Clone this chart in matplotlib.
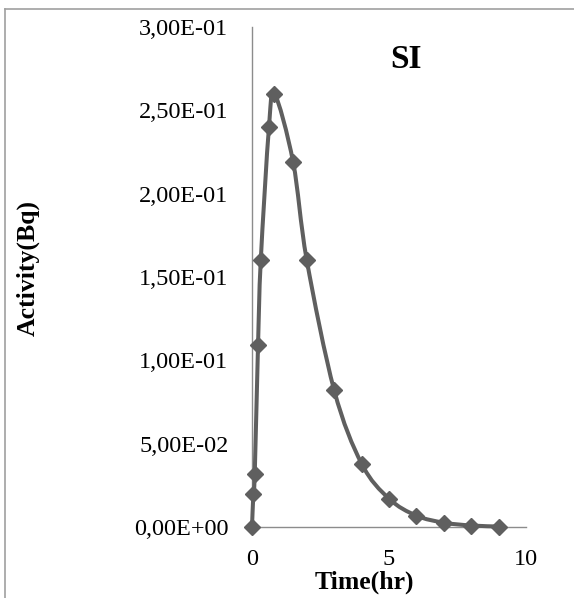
import matplotlib
matplotlib.use("Agg")
import matplotlib.pyplot as plt
from matplotlib.path import Path
from matplotlib.patches import PathPatch
from matplotlib.lines import Line2D
import numpy as np

# Data
time_hr = [0, 0.05, 0.1, 0.22, 0.32, 0.62, 0.82, 1.5, 2.0, 3.0, 4.0, 5.0, 6.0, 7.0, 8.0, 9.0]
activity = [0.0, 0.020, 0.032, 0.109, 0.160, 0.240, 0.260, 0.219, 0.160, 0.082, 0.038,
            0.017, 0.0068, 0.0026, 0.0009, 0.0003]
y_ticks = [0.0, 0.05, 0.10, 0.15, 0.20, 0.25, 0.30]
y_tick_labels = ["0,00E+00", "5,00E-02", "1,00E-01", "1,50E-01", "2,00E-01", "2,50E-01", "3,00E-01"]
x_ticks = [0, 5, 10]
x_tick_labels = ["0", "5", "10"]
title = "SI"
xlabel = "Time(hr)"
ylabel = "Activity(Bq)"

W, H = 574, 598
fig = plt.figure(figsize=(W / 100, H / 100), dpi=100)
serif = ["Liberation Serif", "DejaVu Serif"]
plt.rcParams['font.family'] = serif

ax_l, ax_r, ax_b, ax_t = 252, 526, 527, 27
ax = fig.add_axes([ax_l / W, 1 - ax_b / H, (ax_r - ax_l) / W, (ax_b - ax_t) / H])
ax.set_xlim(0, 10)
ax.set_ylim(0, 0.30)

line_color = "#5f5f5f"
axis_color = "#8c8c8c"

# Smoothed line (Excel-like Catmull-Rom through the data points)
pts = np.column_stack([time_hr, activity])
n = len(pts)
verts = [pts[0]]
codes = [Path.MOVETO]
for i in range(n - 1):
    p0 = pts[i - 1] if i > 0 else pts[i]
    p1 = pts[i]
    p2 = pts[i + 1]
    p3 = pts[i + 2] if i + 2 < n else pts[i + 1]
    c1 = p1 + (p2 - p0) / 6.0
    c2 = p2 - (p3 - p1) / 6.0
    verts += [c1, c2, p2]
    codes += [Path.CURVE4, Path.CURVE4, Path.CURVE4]
patch = PathPatch(Path(verts, codes), facecolor="none", edgecolor=line_color,
                  lw=2.9, capstyle="round", joinstyle="round", zorder=3, clip_on=False)
ax.add_patch(patch)
ax.plot(time_hr, activity, linestyle="none", marker="D", ms=8.3, color=line_color,
        mec=line_color, mew=1, zorder=4, clip_on=False)

for s in ["top", "right"]:
    ax.spines[s].set_visible(False)
for s in ["left", "bottom"]:
    ax.spines[s].set_color(axis_color)
    ax.spines[s].set_linewidth(1.0)

ax.set_yticks(y_ticks)
ax.set_yticklabels(y_tick_labels)
ax.set_xticks(x_ticks)
ax.set_xticklabels(x_tick_labels)
ax.tick_params(axis="both", length=0, labelsize=17.5, colors="#000000")
ax.tick_params(axis="y", pad=17)
ax.tick_params(axis="x", pad=16)

fig.text(406 / W, 1 - 60 / H, title, ha="center", va="center", fontsize=24,
         fontweight="bold")
fig.text(364 / W, 1 - 582 / H, xlabel, ha="center", va="center", fontsize=18.5,
         fontweight="bold")
fig.text(28 / W, 1 - 268 / H, ylabel, ha="center", va="center", fontsize=18.5,
         fontweight="bold", rotation=90)

# Outer chart-area border (top and left edges visible)
fig.add_artist(Line2D([5 / W, 5 / W], [0, 1 - 9 / H], transform=fig.transFigure,
                      color="#a0a0a0", lw=1.2))
fig.add_artist(Line2D([5 / W, 1], [1 - 9 / H, 1 - 9 / H], transform=fig.transFigure,
                      color="#a0a0a0", lw=1.2))

fig.savefig("out.png", dpi=100)
